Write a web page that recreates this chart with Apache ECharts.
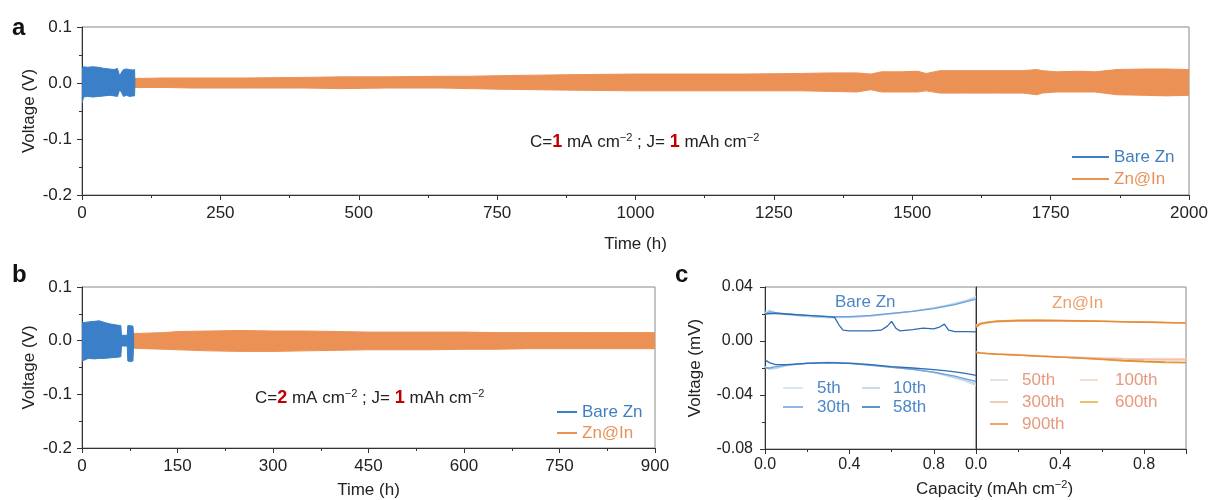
<!DOCTYPE html>
<html><head><meta charset="utf-8">
<script src="https://cdn.jsdelivr.net/npm/echarts@6.0.0/dist/echarts.min.js"></script>
<style>html,body{margin:0;padding:0;background:#fff}#c{width:1212px;height:500px}</style>
</head><body><div id="c"></div>
<script>
const FONT = '"Liberation Sans", Arial, Helvetica, sans-serif';

// ---------- Panel a (1 mA cm-2), envelopes of voltage band ----------
const aBareT  = [0, 3, 10, 20, 30, 40, 50, 58, 64, 68, 72, 75, 80, 86, 92, 95, 95.5];
const aBareUp = [0.026, 0.029, 0.028, 0.029, 0.028, 0.026, 0.025, 0.024, 0.026, 0.013, 0.020, 0.024, 0.025, 0.024, 0.023, 0.024, 0.006];
const aBareLo = [-0.036, -0.025, -0.024, -0.025, -0.024, -0.023, -0.022, -0.023, -0.024, -0.012, -0.018, -0.024, -0.022, -0.024, -0.023, -0.023, -0.006];

const aInT  = [95, 150, 200, 300, 400, 470, 550, 650, 700, 750, 820, 900, 1000, 1100, 1200, 1300, 1350, 1400, 1425, 1445, 1480, 1510, 1525, 1550, 1600, 1650, 1700, 1725, 1735, 1760, 1800, 1830, 1870, 1920, 1960, 2000];
const aInUp = [0.008, 0.009, 0.009, 0.009, 0.010, 0.011, 0.011, 0.012, 0.012, 0.013, 0.014, 0.015, 0.016, 0.016, 0.016, 0.017, 0.018, 0.018, 0.016, 0.020, 0.020, 0.021, 0.017, 0.022, 0.022, 0.022, 0.022, 0.024, 0.022, 0.020, 0.021, 0.020, 0.024, 0.025, 0.025, 0.024];
const aInLo = [-0.008, -0.008, -0.009, -0.009, -0.009, -0.010, -0.009, -0.009, -0.010, -0.011, -0.012, -0.013, -0.014, -0.014, -0.014, -0.014, -0.015, -0.016, -0.012, -0.016, -0.016, -0.016, -0.014, -0.018, -0.018, -0.018, -0.018, -0.021, -0.018, -0.016, -0.016, -0.016, -0.021, -0.022, -0.023, -0.022];

// ---------- Panel b (2 mA cm-2) ----------
const bBareT  = [0, 10, 20, 27, 35, 45, 55, 61, 62, 71, 72, 76, 80, 81];
const bBareUp = [0.033, 0.035, 0.036, 0.037, 0.034, 0.031, 0.029, 0.028, 0.010, 0.010, 0.028, 0.028, 0.027, 0.010];
const bBareLo = [-0.038, -0.033, -0.034, -0.033, -0.033, -0.032, -0.031, -0.030, -0.010, -0.010, -0.038, -0.039, -0.038, -0.010];

const bInT  = [78, 100, 130, 150, 200, 250, 300, 350, 400, 450, 500, 550, 600, 650, 700, 750, 800, 850, 900];
const bInUp = [0.013, 0.014, 0.015, 0.017, 0.018, 0.019, 0.018, 0.018, 0.017, 0.016, 0.016, 0.016, 0.016, 0.015, 0.015, 0.015, 0.015, 0.015, 0.015];
const bInLo = [-0.014, -0.015, -0.016, -0.017, -0.019, -0.020, -0.020, -0.019, -0.018, -0.017, -0.017, -0.017, -0.016, -0.016, -0.015, -0.015, -0.015, -0.015, -0.015];

// ---------- Panel c, Bare Zn voltage profiles ----------
const capA = [0, 0.02, 0.05, 0.1, 0.2, 0.3, 0.4, 0.5, 0.6, 0.7, 0.8, 0.85, 0.9, 0.95, 1.0];
const bare5Up  = [0.021, 0.023, 0.021, 0.020, 0.0185, 0.0175, 0.0175, 0.0185, 0.020, 0.022, 0.0245, 0.026, 0.028, 0.030, 0.033];
const bare10Up = [0.020, 0.022, 0.0205, 0.0195, 0.018, 0.0172, 0.0175, 0.0185, 0.0205, 0.0222, 0.0245, 0.026, 0.0275, 0.0295, 0.032];
const bare30Up = [0.020, 0.0215, 0.021, 0.020, 0.019, 0.018, 0.018, 0.019, 0.0205, 0.022, 0.024, 0.0255, 0.027, 0.029, 0.031];
const bare5Lo  = [-0.019, -0.021, -0.0205, -0.0185, -0.0165, -0.0158, -0.016, -0.0175, -0.0192, -0.021, -0.0235, -0.0255, -0.0275, -0.030, -0.033];
const bare10Lo = [-0.019, -0.0205, -0.020, -0.018, -0.0163, -0.0158, -0.0162, -0.0176, -0.0193, -0.021, -0.0232, -0.025, -0.027, -0.029, -0.032];
const bare30Lo = [-0.020, -0.020, -0.019, -0.0178, -0.0165, -0.016, -0.0165, -0.018, -0.0195, -0.021, -0.023, -0.0245, -0.026, -0.028, -0.030];
const bare58Lo = [-0.014, -0.016, -0.0175, -0.0175, -0.0165, -0.016, -0.0165, -0.0175, -0.019, -0.020, -0.0212, -0.022, -0.0228, -0.024, -0.0255];
const cap58    = [0, 0.05, 0.1, 0.2, 0.3, 0.33, 0.35, 0.37, 0.4, 0.5, 0.55, 0.58, 0.6, 0.62, 0.64, 0.7, 0.75, 0.8, 0.83, 0.85, 0.87, 0.9, 0.95, 1.0];
const bare58Up = [0.020, 0.0205, 0.020, 0.019, 0.018, 0.0175, 0.012, 0.008, 0.0075, 0.0075, 0.008, 0.011, 0.0145, 0.0095, 0.0075, 0.0085, 0.0095, 0.009, 0.0105, 0.0125, 0.008, 0.007, 0.007, 0.0068];

// ---------- Panel c, Zn@In voltage profiles ----------
const capB = [0, 0.02, 0.05, 0.1, 0.2, 0.3, 0.4, 0.5, 0.6, 0.7, 0.8, 0.9, 1.0];
const in50Up  = [0.012, 0.013, 0.0135, 0.014, 0.0148, 0.015, 0.015, 0.0148, 0.0146, 0.0143, 0.014, 0.0138, 0.0136];
const in100Up = [0.011, 0.0125, 0.0135, 0.0142, 0.015, 0.0152, 0.0151, 0.015, 0.0147, 0.0144, 0.0141, 0.0138, 0.0136];
const in300Up = [0.0115, 0.013, 0.0138, 0.0145, 0.0152, 0.0153, 0.0152, 0.0149, 0.0146, 0.0143, 0.014, 0.0137, 0.0135];
const in600Up = [0.011, 0.013, 0.014, 0.0148, 0.0155, 0.0155, 0.0153, 0.015, 0.0147, 0.0143, 0.014, 0.0137, 0.0134];
const in900Up = [0.010, 0.0125, 0.0135, 0.0145, 0.015, 0.0152, 0.015, 0.0148, 0.0145, 0.0142, 0.0139, 0.0136, 0.0134];
const in50Lo  = [-0.0085, -0.009, -0.0092, -0.0095, -0.010, -0.0108, -0.0115, -0.012, -0.0125, -0.0128, -0.013, -0.0132, -0.0133];
const in100Lo = [-0.008, -0.0088, -0.009, -0.0095, -0.0102, -0.011, -0.0117, -0.0122, -0.0126, -0.0129, -0.013, -0.0128, -0.013];
const in300Lo = [-0.0085, -0.009, -0.0093, -0.0097, -0.0105, -0.0112, -0.0118, -0.0124, -0.013, -0.0135, -0.0138, -0.014, -0.014];
const in600Lo = [-0.0085, -0.009, -0.0093, -0.0098, -0.0105, -0.0113, -0.012, -0.0128, -0.0138, -0.0148, -0.0155, -0.016, -0.0162];
const in900Lo = [-0.0082, -0.0088, -0.0092, -0.0097, -0.0104, -0.0112, -0.012, -0.0127, -0.0135, -0.0143, -0.015, -0.0155, -0.0158];

const C_BLUE = '#3a7fc8', C_ORANGE = '#eb9155';

function zip(xs, ys) { return xs.map((x, i) => [x, ys[i]]); }

function band(name, idx, t, up, lo, color) {
  return {
    type: 'custom', name: name, xAxisIndex: idx, yAxisIndex: idx,
    itemStyle: { color: color }, silent: true, animation: false, clip: true,
    data: [[t[0], up[0]]],
    renderItem: function (params, api) {
      const pts = [];
      for (let i = 0; i < t.length; i++) pts.push(api.coord([t[i], up[i]]));
      for (let i = t.length - 1; i >= 0; i--) pts.push(api.coord([t[i], lo[i]]));
      return { type: 'polygon', shape: { points: pts }, style: { fill: color, stroke: color, lineWidth: 1 } };
    }
  };
}
function curve(name, idx, xs, ys, color, w) {
  return {
    type: 'line', name: name, xAxisIndex: idx, yAxisIndex: idx, data: zip(xs, ys),
    showSymbol: false, symbol: 'none', smooth: false, animation: false, silent: true,
    lineStyle: { color: color, width: w || 1.3 }, itemStyle: { color: color }
  };
}

const axisLineStyle = { color: '#333', width: 1 };
function valAxis(gi, extra) {
  return Object.assign({
    type: 'value', gridIndex: gi,
    axisLine: { show: true, onZero: false, lineStyle: axisLineStyle },
    axisTick: { show: true, length: 5, lineStyle: axisLineStyle },
    minorTick: { show: true, splitNumber: 2, length: 3, lineStyle: axisLineStyle },
    splitLine: { show: false },
    nameMoveOverlap: false,
    nameTextStyle: { color: '#222', fontSize: 17, fontFamily: FONT }
  }, extra);
}
function lab(size, margin, fmt, extra) {
  return Object.assign({ color: '#222', fontSize: size, fontFamily: FONT, margin: margin, formatter: fmt }, extra || {});
}
function merge(a, b) { return Object.assign({}, a, b); }

const gridBase = { show: true, borderColor: '#888', borderWidth: 1, backgroundColor: 'transparent', containLabel: false };

const fmt0 = v => String(v);
const fmt1 = v => v.toFixed(1);
const fmt2 = v => v.toFixed(2);

const richAnno = {
  n: { fontSize: 17, fontFamily: FONT, fill: '#222' },
  r: { fontSize: 18, fontFamily: FONT, fill: '#c00000', fontWeight: 'bold' },
  s: { fontSize: 11, fontFamily: FONT, fill: '#222', padding: [0, 0, 9, 0] }
};

const legendText = { fontSize: 17, fontFamily: FONT, lineHeight: 18 };

const option = {
  backgroundColor: '#fff',
  animation: false,
  grid: [
    merge(gridBase, { left: 82, top: 27, width: 1107, height: 168 }),
    merge(gridBase, { left: 82, top: 287, width: 573, height: 163 }),
    merge(gridBase, { left: 765, top: 287, width: 211, height: 162 }),
    merge(gridBase, { left: 976, top: 287, width: 210, height: 162 })
  ],
  xAxis: [
    valAxis(0, { min: 0, max: 2000, interval: 250, name: 'Time (h)', nameLocation: 'middle', nameGap: 41, axisLabel: lab(17, 10, fmt0) }),
    valAxis(1, { min: 0, max: 900, interval: 150, name: 'Time (h)', nameLocation: 'middle', nameGap: 34, axisLabel: lab(17, 10, fmt0) }),
    valAxis(2, { min: 0, max: 1.0, interval: 0.4, axisLabel: lab(16, 8, fmt1, { showMaxLabel: false }) }),
    valAxis(3, { min: 0, max: 1.0, interval: 0.4, axisLabel: lab(16, 8, fmt1, { showMaxLabel: false }) })
  ],
  yAxis: [
    valAxis(0, { min: -0.2, max: 0.1, interval: 0.1, name: 'Voltage (V)', nameLocation: 'middle', nameGap: 44, axisLabel: lab(17, 10, fmt1) }),
    valAxis(1, { min: -0.2, max: 0.1, interval: 0.1, name: 'Voltage (V)', nameLocation: 'middle', nameGap: 44, axisLabel: lab(17, 10, fmt1) }),
    valAxis(2, { min: -0.08, max: 0.04, interval: 0.04, name: 'Voltage (mV)', nameLocation: 'middle', nameGap: 61, axisLabel: lab(16, 12, fmt2) }),
    valAxis(3, { min: -0.08, max: 0.04, interval: 0.04, axisLabel: { show: false }, axisTick: { show: false }, minorTick: { show: false } })
  ],
  legend: [
    { data: [{ name: 'Bare Zn', textStyle: { color: '#3f7fc0' } }, { name: 'Zn@In', textStyle: { color: '#e8915a' } }],
      orient: 'vertical', left: 1072, top: 148, itemWidth: 37, itemHeight: 2, icon: 'rect', itemGap: 4,
      textStyle: legendText, selectedMode: false, padding: 0 },
    { data: [{ name: 'Bare Zn', textStyle: { color: '#3f7fc0' } }, { name: 'Zn@In', textStyle: { color: '#e8915a' } }],
      orient: 'vertical', left: 557, top: 403, itemWidth: 20, itemHeight: 2, icon: 'rect', itemGap: 3,
      textStyle: legendText, selectedMode: false, padding: 0 },
    { data: ['5th', '30th'], orient: 'vertical', left: 783, top: 379, itemWidth: 20, itemHeight: 1.5, icon: 'rect', itemGap: 1,
      textStyle: { fontSize: 17, fontFamily: FONT, lineHeight: 18, color: '#4a86c8', padding: [0, 0, 0, 9] }, selectedMode: false, padding: 0 },
    { data: ['10th', '58th'], orient: 'vertical', left: 862, top: 379, itemWidth: 18, itemHeight: 1.5, icon: 'rect', itemGap: 1,
      textStyle: { fontSize: 17, fontFamily: FONT, lineHeight: 18, color: '#4a86c8', padding: [0, 0, 0, 8] }, selectedMode: false, padding: 0 },
    { data: ['50th', '300th', '900th'], orient: 'vertical', left: 990, top: 371, itemWidth: 18, itemHeight: 1.5, icon: 'rect', itemGap: 4,
      textStyle: { fontSize: 17, fontFamily: FONT, lineHeight: 18, color: '#e8987c', padding: [0, 0, 0, 9] }, selectedMode: false, padding: 0 },
    { data: ['100th', '600th'], orient: 'vertical', left: 1080, top: 371, itemWidth: 18, itemHeight: 1.5, icon: 'rect', itemGap: 4,
      textStyle: { fontSize: 17, fontFamily: FONT, lineHeight: 18, color: '#e8987c', padding: [0, 0, 0, 12] }, selectedMode: false, padding: 0 }
  ],
  series: [
    band('Zn@In', 0, aInT, aInUp, aInLo, C_ORANGE),
    band('Bare Zn', 0, aBareT, aBareUp, aBareLo, C_BLUE),
    band('Zn@In', 1, bInT, bInUp, bInLo, C_ORANGE),
    band('Bare Zn', 1, bBareT, bBareUp, bBareLo, C_BLUE),
    curve('5th', 2, capA, bare5Up, '#d0dfee'), curve('5th', 2, capA, bare5Lo, '#d0dfee'),
    curve('10th', 2, capA, bare10Up, '#b2cdea'), curve('10th', 2, capA, bare10Lo, '#b2cdea'),
    curve('30th', 2, capA, bare30Up, '#6aa2d8'), curve('30th', 2, capA, bare30Lo, '#6aa2d8'),
    curve('58th', 2, cap58, bare58Up, '#2f6db3'), curve('58th', 2, capA, bare58Lo, '#2f6db3'),
    curve('50th', 3, capB, in50Up, '#e2d9d5'), curve('50th', 3, capB, in50Lo, '#e2d9d5'),
    curve('100th', 3, capB, in100Up, '#f3d6c6'), curve('100th', 3, capB, in100Lo, '#f3d6c6'),
    curve('300th', 3, capB, in300Up, '#ebb89e'), curve('300th', 3, capB, in300Lo, '#ebb89e'),
    curve('600th', 3, capB, in600Up, '#e0b02e'), curve('600th', 3, capB, in600Lo, '#e0b02e'),
    curve('900th', 3, capB, in900Up, '#ea8640'), curve('900th', 3, capB, in900Lo, '#ea8640')
  ],
  graphic: [
    { type: 'text', left: 12, top: 16, style: { text: 'a', fontSize: 24, fontWeight: 'bold', fontFamily: FONT, fill: '#111' } },
    { type: 'text', left: 12, top: 263, style: { text: 'b', fontSize: 24, fontWeight: 'bold', fontFamily: FONT, fill: '#111' } },
    { type: 'text', left: 675, top: 263, style: { text: 'c', fontSize: 24, fontWeight: 'bold', fontFamily: FONT, fill: '#111' } },
    { type: 'text', left: 530, top: 132, style: { text: '{n|C=}{r|1}{n| mA cm}{s|−2}{n| ; J= }{r|1}{n| mAh cm}{s|−2}', rich: richAnno } },
    { type: 'text', left: 255, top: 388, style: { text: '{n|C=}{r|2}{n| mA cm}{s|−2}{n| ; J= }{r|1}{n| mAh cm}{s|−2}', rich: richAnno } },
    { type: 'text', left: 835, top: 294, style: { text: 'Bare Zn', fontSize: 17, fontFamily: FONT, fill: '#4a86c8' } },
    { type: 'text', left: 1052, top: 295, style: { text: 'Zn@In', fontSize: 17, fontFamily: FONT, fill: '#eba06e' } },
    { type: 'text', left: 916, top: 479, style: { text: '{n|Capacity (mAh cm}{s|−2}{n|)}',
      rich: { n: { fontSize: 17, fontFamily: FONT, fill: '#222' }, s: { fontSize: 11, fontFamily: FONT, fill: '#222', padding: [0, 0, 9, 0] } } } }
  ]
};

const chart = echarts.init(document.getElementById('c'), null, { renderer: 'canvas' });
chart.setOption(option);
</script>
</body></html>
